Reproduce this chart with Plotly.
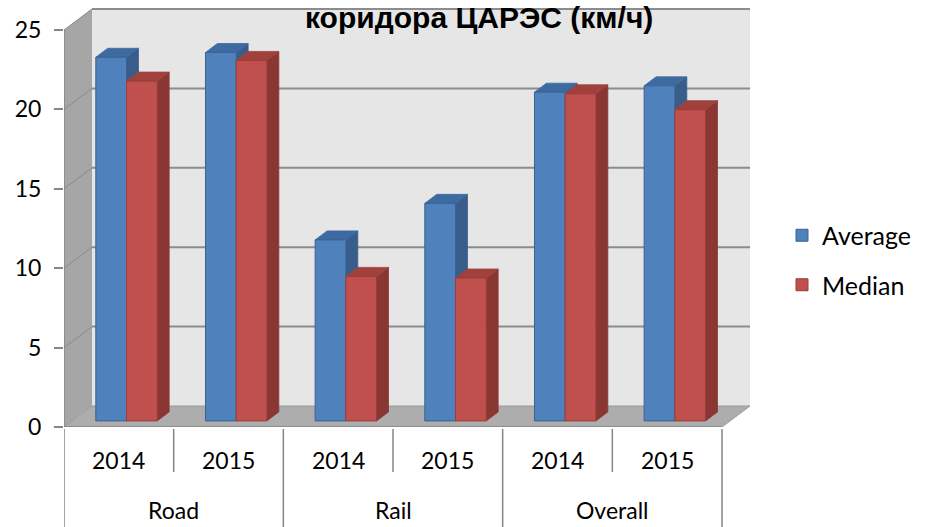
import plotly.graph_objects as go

# ---- data ----
groups = ["Road", "Rail", "Overall"]
years = ["2014", "2015", "2014", "2015", "2014", "2015"]
average = [22.9, 23.2, 11.4, 13.7, 20.7, 21.1]
median = [21.4, 22.7, 9.1, 9.0, 20.6, 19.6]
y_ticks = [0, 5, 10, 15, 20, 25]
title_text = "коридора ЦАРЭС (км/ч)"

# ---- faux-3D geometry (axis units) ----
N = len(years)
DXW, DYW = 0.2553, 1.322      # depth of the walls
BASE = 0.383                  # bars stand slightly behind the front edge
DDX, DDY = 0.109, 0.567       # bar depth
BW = 0.28
OFF_A, OFF_M = 0.43, 0.71
YMAX = 26.385
XMAX = N + DXW

BLUE, BLUE_SIDE, BLUE_TOP, BLUE_LINE = "#4F81BD", "#385D8A", "#3D6AA0", "#3A6391"
RED, RED_SIDE, RED_TOP, RED_LINE = "#C0504D", "#8A3734", "#A0413E", "#9A3C39"
WALL, SIDEWALL, FLOOR, GRID = "#E6E6E6", "#A6A6A6", "#ADADAD", "#8C8C8C"

def path(pts):
    return "M " + " L ".join(f"{x},{y}" for x, y in pts) + " Z"

shapes = []
# back wall
shapes.append(dict(type="path", xref="x", yref="y", layer="below",
                   path=path([(DXW, DYW), (N + DXW, DYW), (N + DXW, y_ticks[-1] + DYW), (DXW, y_ticks[-1] + DYW)]),
                   fillcolor=WALL, line=dict(width=0)))
# side wall
shapes.append(dict(type="path", xref="x", yref="y", layer="below",
                   path=path([(0, 0), (DXW, DYW), (DXW, y_ticks[-1] + DYW), (0, y_ticks[-1])]),
                   fillcolor=SIDEWALL, line=dict(width=0)))
# floor
shapes.append(dict(type="path", xref="x", yref="y", layer="below",
                   path=path([(0, 0), (N, 0), (N + DXW, DYW), (DXW, DYW)]),
                   fillcolor=FLOOR, line=dict(color="#9A9A9A", width=1)))
# gridlines on back and side wall
for v in y_ticks[1:]:
    shapes.append(dict(type="line", xref="x", yref="y", layer="below",
                       x0=DXW, x1=N + DXW, y0=v + DYW, y1=v + DYW,
                       line=dict(color=GRID, width=2)))
    shapes.append(dict(type="line", xref="x", yref="y", layer="below",
                       x0=0, x1=DXW, y0=v, y1=v + DYW,
                       line=dict(color="#8A8A8A", width=1)))
# front edges
shapes.append(dict(type="line", xref="x", yref="y", layer="below",
                   x0=0, x1=0, y0=0, y1=y_ticks[-1], line=dict(color="#868686", width=1.5)))
shapes.append(dict(type="line", xref="x", yref="y", layer="below",
                   x0=0, x1=N, y0=0, y1=0, line=dict(color="#868686", width=1.5)))

# bar side and top faces
for i in range(N):
    for off, val, cs, ct in ((OFF_A, average[i], BLUE_SIDE, BLUE_TOP), (OFF_M, median[i], RED_SIDE, RED_TOP)):
        x0, x1 = i + off - BW / 2, i + off + BW / 2
        y0, y1 = BASE, BASE + val
        shapes.append(dict(type="path", xref="x", yref="y", layer="below",
                           path=path([(x1, y0), (x1 + DDX, y0 + DDY), (x1 + DDX, y1 + DDY), (x1, y1)]),
                           fillcolor=cs, line=dict(color=cs, width=0.8)))
        shapes.append(dict(type="path", xref="x", yref="y", layer="below",
                           path=path([(x0, y1), (x1, y1), (x1 + DDX, y1 + DDY), (x0 + DDX, y1 + DDY)]),
                           fillcolor=ct, line=dict(color=ct, width=0.8)))

# category table lines below the floor
PX_H = 419.0
for k in range(N + 1):
    long = (k % 2 == 0)
    shapes.append(dict(type="line", xref="x", yref="paper",
                       x0=k, x1=k, y0=-2 / PX_H, y1=(-0.26 if long else -45 / PX_H),
                       line=dict(color="#868686", width=1.5)))

annotations = []
for i, yr in enumerate(years):
    annotations.append(dict(x=i + 0.5, y=0, xref="x", yref="paper", yshift=-33,
                            text=yr, showarrow=False, yanchor="middle",
                            font=dict(family="Lato", size=23, color="black")))
for j, g in enumerate(groups):
    annotations.append(dict(x=2 * j + 1, y=0, xref="x", yref="paper", yshift=-83,
                            text=g, showarrow=False, yanchor="middle",
                            font=dict(family="Lato", size=23, color="black")))
annotations.append(dict(x=(479 - 64) / 686, y=1, xref="paper", yref="paper", yshift=-9,
                        text="<b>" + title_text + "</b>", showarrow=False, yanchor="middle",
                        font=dict(family="Liberation Sans", size=30, color="black")))

fig = go.Figure()
fig.add_trace(go.Bar(x=[i + OFF_A for i in range(N)], y=average, base=BASE, width=BW,
                     name="Average", legendgroup="a",
                     marker=dict(color=BLUE, line=dict(color=BLUE_LINE, width=1))))
fig.add_trace(go.Bar(x=[i + OFF_M for i in range(N)], y=median, base=BASE, width=BW,
                     name="Median", legendgroup="m",
                     marker=dict(color=RED, line=dict(color=RED_LINE, width=1))))

fig.update_layout(
    width=937, height=527,
    margin=dict(l=64, r=187, t=8, b=100),
    paper_bgcolor="white", plot_bgcolor="white",
    barmode="overlay",
    showlegend=True,
    legend=dict(x=(782 - 64) / 686, xanchor="left", y=(427 - 260) / PX_H, yanchor="middle",
                font=dict(family="Lato", size=25, color="black"),
                tracegroupgap=14, bgcolor="rgba(0,0,0,0)"),
    xaxis=dict(range=[0, XMAX], showgrid=False, zeroline=False, showline=False,
               showticklabels=False, ticks=""),
    yaxis=dict(range=[0, YMAX], tickvals=y_ticks, ticktext=[str(v) for v in y_ticks],
               showgrid=False, zeroline=False, showline=False,
               ticks="outside", ticklen=9, tickcolor="#868686", tickwidth=1.5,
               tickfont=dict(family="Lato", size=23, color="black"), ticklabelstandoff=8),
    shapes=shapes,
    annotations=annotations,
)

fig.write_html("out.html", config={"displayModeBar": False},
               post_script="document.body.style.margin='0';document.body.style.overflow='hidden';")
